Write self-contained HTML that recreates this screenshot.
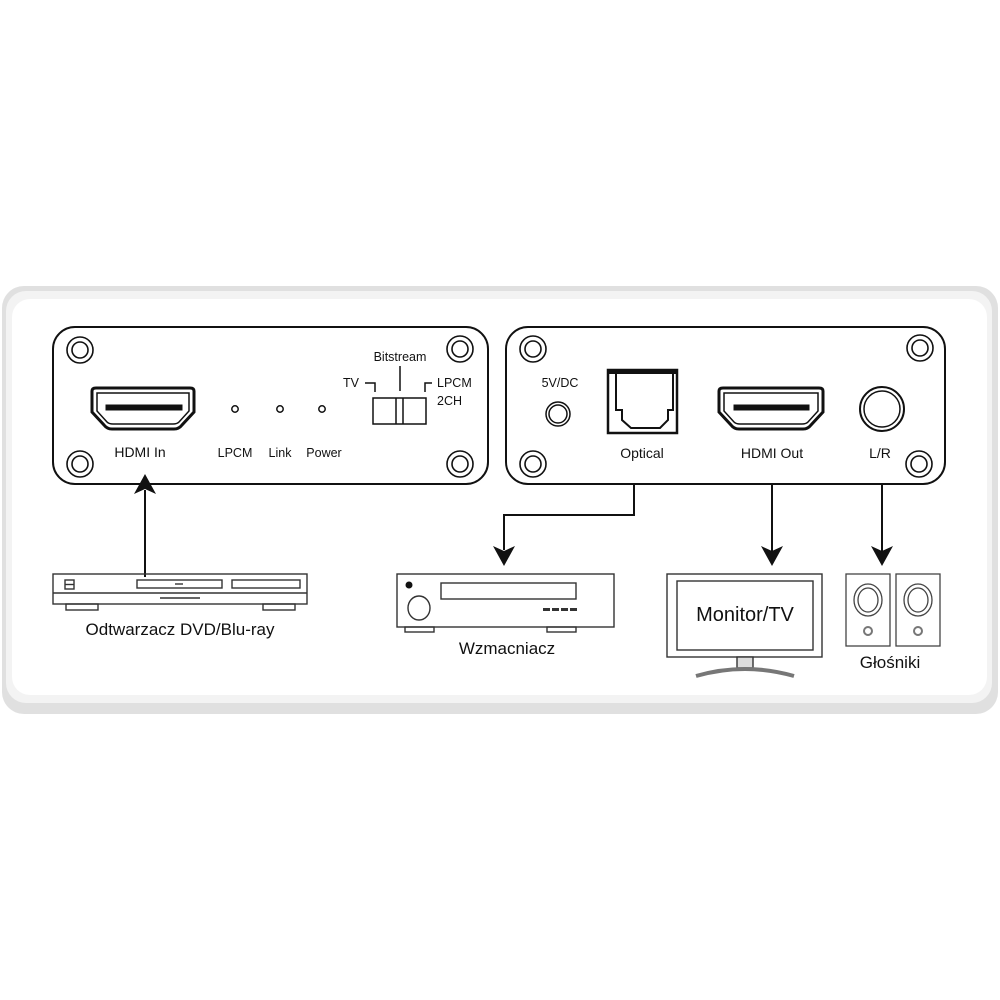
<!DOCTYPE html>
<html><head><meta charset="utf-8"><style>
html,body{margin:0;padding:0;background:#fff;}
svg{display:block;}
text{font-family:"Liberation Sans",Arial,sans-serif;fill:#111;}
</style></head><body>
<svg width="1000" height="1000" viewBox="0 0 1000 1000" xmlns="http://www.w3.org/2000/svg">
<rect x="2" y="286" width="996" height="428" rx="22" fill="#e0e0e0"/>
<rect x="6" y="291" width="986" height="412" rx="20" fill="#f3f3f3"/>
<rect x="12" y="299" width="975" height="396" rx="18" fill="#fff"/>

<g fill="none" stroke="#111">
<rect x="53" y="327" width="435" height="157" rx="22" stroke-width="2"/>
<g stroke-width="1.6">
<circle cx="80" cy="350" r="13"/><circle cx="80" cy="350" r="8"/>
<circle cx="80" cy="464" r="13"/><circle cx="80" cy="464" r="8"/>
<circle cx="460" cy="349" r="13"/><circle cx="460" cy="349" r="8"/>
<circle cx="460" cy="464" r="13"/><circle cx="460" cy="464" r="8"/>
</g>
<path d="M92 391 Q92 388 96 388 L190 388 Q194 388 194 391 L194 412 L182 425 Q179 429 174 429 L112 429 Q107 429 104 425 L92 412 Z" stroke-width="3"/>
<path d="M97 393 L189 393 L189 411 L179 422 Q177 424 173 424 L113 424 Q109 424 107 422 L97 411 Z" stroke-width="1.5"/>
<rect x="106" y="405" width="76" height="5" fill="#111"/>
<circle cx="235" cy="409" r="3.2" stroke-width="1.5"/>
<circle cx="280" cy="409" r="3.2" stroke-width="1.5"/>
<circle cx="322" cy="409" r="3.2" stroke-width="1.5"/>
<rect x="373" y="398" width="53" height="26" stroke-width="1.5"/>
<line x1="396" y1="398" x2="396" y2="424" stroke-width="1.5"/>
<line x1="403" y1="398" x2="403" y2="424" stroke-width="1.5"/>
<line x1="400" y1="366" x2="400" y2="391" stroke-width="1.5"/>
<polyline points="365,383 375,383 375,392" stroke-width="1.5"/>
<polyline points="432,383 425,383 425,392" stroke-width="1.5"/>

<rect x="506" y="327" width="439" height="157" rx="22" stroke-width="2"/>
<g stroke-width="1.6">
<circle cx="533" cy="349" r="13"/><circle cx="533" cy="349" r="8"/>
<circle cx="533" cy="464" r="13"/><circle cx="533" cy="464" r="8"/>
<circle cx="920" cy="348" r="13"/><circle cx="920" cy="348" r="8"/>
<circle cx="919" cy="464" r="13"/><circle cx="919" cy="464" r="8"/>
</g>
<circle cx="558" cy="414" r="12" stroke-width="1.5"/><circle cx="558" cy="414" r="9" stroke-width="1.5"/>
<rect x="608" y="370" width="69" height="63" stroke-width="2.5"/>
<line x1="608" y1="372" x2="677" y2="372" stroke-width="4"/>
<path d="M616 372 L616 410 L622 410 L622 420 L631 428 L660 428 L668 420 L668 410 L673 410 L673 372" stroke-width="2"/>
<path d="M719 391 Q719 388 723 388 L819 388 Q823 388 823 391 L823 412 L811 425 Q808 429 803 429 L739 429 Q734 429 731 425 L719 412 Z" stroke-width="3"/>
<path d="M724 393 L818 393 L818 411 L808 422 Q806 424 802 424 L740 424 Q736 424 734 422 L724 411 Z" stroke-width="1.5"/>
<rect x="734" y="405" width="75" height="5" fill="#111"/>
<circle cx="882" cy="409" r="22" stroke-width="2"/><circle cx="882" cy="409" r="18" stroke-width="1.5"/>

<g stroke-width="2">
<line x1="145" y1="577" x2="145" y2="490"/>
<polyline points="634,484 634,515 504,515 504,550"/>
<line x1="772" y1="484" x2="772" y2="552"/>
<line x1="882" y1="484" x2="882" y2="552"/>
</g>
</g>
<g fill="#111">
<polygon points="145,474 134,494 145,489 156,494"/>
<polygon points="504,566 493,546 504,551 515,546"/>
<polygon points="772,566 761,546 772,551 783,546"/>
<polygon points="882,566 871,546 882,551 893,546"/>
</g>

<g fill="none" stroke="#333" stroke-width="1.4">
<rect x="53" y="574" width="254" height="30"/>
<line x1="53" y1="593" x2="307" y2="593"/>
<rect x="65" y="580" width="9" height="9"/><line x1="65" y1="584.5" x2="74" y2="584.5"/>
<rect x="137" y="580" width="85" height="8"/>
<rect x="232" y="580" width="68" height="8"/>
<line x1="160" y1="598" x2="200" y2="598"/>
<line x1="175" y1="584" x2="183" y2="584"/>
<rect x="66" y="604" width="32" height="6"/><rect x="263" y="604" width="32" height="6"/>
</g>

<g fill="none" stroke="#333" stroke-width="1.4">
<rect x="397" y="574" width="217" height="53"/>
<rect x="441" y="583" width="135" height="16"/>
<ellipse cx="419" cy="608" rx="11" ry="12"/>
<rect x="405" y="627" width="29" height="5"/><rect x="547" y="627" width="29" height="5"/>
</g>
<circle cx="409" cy="585" r="3.5" fill="#111"/>
<g fill="#333"><rect x="543" y="608" width="7" height="3"/><rect x="552" y="608" width="7" height="3"/><rect x="561" y="608" width="7" height="3"/><rect x="570" y="608" width="7" height="3"/></g>

<g fill="none" stroke="#333" stroke-width="1.4">
<rect x="667" y="574" width="155" height="83"/>
<rect x="677" y="581" width="136" height="69"/>
<rect x="737" y="657" width="16" height="11" fill="#ddd"/>
<path d="M696 676 Q745 662 794 676" stroke-width="4" stroke="#777"/>
</g>

<g fill="none" stroke="#444" stroke-width="1.3">
<rect x="846" y="574" width="44" height="72"/>
<rect x="896" y="574" width="44" height="72"/>
<ellipse cx="868" cy="600" rx="14" ry="16"/><ellipse cx="868" cy="600" rx="10" ry="12"/>
<ellipse cx="918" cy="600" rx="14" ry="16"/><ellipse cx="918" cy="600" rx="10" ry="12"/>
<circle cx="868" cy="631" r="4" stroke-width="2" stroke="#777"/>
<circle cx="918" cy="631" r="4" stroke-width="2" stroke="#777"/>
</g>

<g font-size="14" text-anchor="middle">
<text x="140" y="457">HDMI In</text>
<text x="642" y="458">Optical</text>
<text x="772" y="458">HDMI Out</text>
<text x="880" y="458">L/R</text>
</g>
<g font-size="12.5" text-anchor="middle">
<text x="235" y="457">LPCM</text>
<text x="280" y="457">Link</text>
<text x="324" y="457">Power</text>
<text x="400" y="361">Bitstream</text>
<text x="560" y="387">5V/DC</text>
</g>
<g font-size="12.5">
<text x="343" y="387">TV</text>
<text x="437" y="387">LPCM</text>
<text x="437" y="405">2CH</text>
</g>
<g font-size="17" text-anchor="middle">
<text x="180" y="635">Odtwarzacz DVD/Blu-ray</text>
<text x="507" y="654">Wzmacniacz</text>
<text x="890" y="668">Głośniki</text>
<text x="745" y="621" font-size="20">Monitor/TV</text>
</g>
</svg>
</body></html>
